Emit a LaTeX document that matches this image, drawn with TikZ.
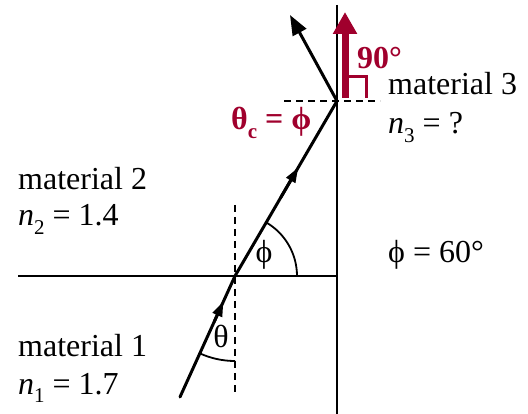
\documentclass[tikz,border=0pt]{standalone}
\usepackage{fontspec}
\setmainfont{Liberation Serif}
\usetikzlibrary{arrows.meta,calc}
\definecolor{dred}{RGB}{160,0,45}
\newcommand\sbs[1]{\raisebox{-0.28em}{\fontsize{21}{21}\selectfont #1}}
\newcommand\vphi{\char"03D5\relax}
\tikzset{
  lbl/.style={anchor=base west,inner sep=0pt,font=\fontsize{32}{36}\selectfont},
  rlbl/.style={lbl,text=dred,font=\fontsize{32}{36}\selectfont\bfseries},
  ray/.style={line width=3pt,line cap=round},
  bound/.style={line width=1.8pt},
  dsh/.style={line width=1.6pt,dash pattern=on 7pt off 5pt},
  tip/.style={-{Triangle[length=15pt,width=10pt]}},
}
\begin{document}
\begin{tikzpicture}[x=1pt,y=-1pt]
\useasboundingbox (0,0) rectangle (528,414);
% coordinates
\coordinate (S) at (180,397);
\coordinate (P) at (235,276);
\coordinate (Q) at (337,101);
\coordinate (R) at (290,15);
\coordinate (HL) at (18,276);
\coordinate (HR) at (337,276);
\coordinate (VT) at (337,5);
\coordinate (VB) at (337,414);
\coordinate (DT) at (235,205);
\coordinate (DB) at (235,393);
\coordinate (QL) at (284,101);
\coordinate (QR) at (380,101);
\coordinate (AB) at (345,98);
\coordinate (AT) at (345,12);
\coordinate (M1) at (345,77);
\coordinate (M2) at (366,77);
\coordinate (M3) at (366,98);
% boundaries
\draw[bound] (HL) -- (HR);
\draw[bound] (VT) -- (VB);
\draw[dsh] (DT) -- (DB);
\draw[dsh] (QL) -- (QR);
% angle arcs
\draw[line width=1.8pt] ($(P)+(62,0)$) arc[start angle=0,end angle=-60,radius=62];
\draw[line width=1.8pt] ($(P)+(0,85)$) arc[start angle=90,end angle=114.4,radius=85];
% rays
\draw[ray] (S) -- (P);
\draw[ray] (P) -- (Q);
\draw[ray,-{Triangle[length=20pt,width=15pt]}] (Q) -- (R);
\draw[ray,tip,line cap=butt] ($(S)!0.62!(P)$) -- ($(S)!0.79!(P)$);
\draw[ray,tip,line cap=butt] ($(P)!0.45!(Q)$) -- ($(P)!0.62!(Q)$);
% red arrow
\draw[dred,line width=7pt,-{Triangle[length=22pt,width=23pt]}] (AB) -- (AT);
\draw[dred,line width=3pt] (M1) -- (M2) -- (M3);
% labels
\node[rlbl] (t90) at (357,69) {90°};
\node[rlbl] (tc) at (231,130) {θ\sbs{c} = \vphi};
\node[lbl] (m3) at (388,95) {material 3};
\node[lbl] (n3) at (388,134) {\textit{n}\sbs{3} = ?};
\node[lbl] (m2) at (18,190) {material 2};
\node[lbl] (n2) at (18,226) {\textit{n}\sbs{2} = 1.4};
\node[lbl] (m1) at (18,356) {material 1};
\node[lbl] (n1) at (18,394) {\textit{n}\sbs{1} = 1.7};
\node[lbl] (ph) at (388,263) {\vphi{} = 60°};
\node[inner sep=0pt,font=\fontsize{32}{36}\selectfont] (phl) at (264,255) {\vphi};
\node[inner sep=0pt,font=\fontsize{32}{36}\selectfont] (thl) at (221,336) {θ};
\end{tikzpicture}
\end{document}
